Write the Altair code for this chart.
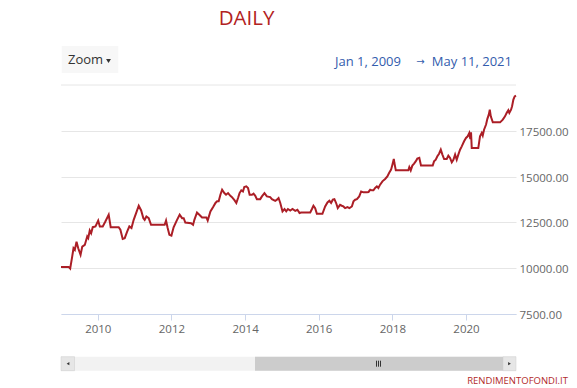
import altair as alt
import pandas as pd

# ---- data ----
dates = [
    "2009-01-01", "2009-03-18", "2009-04-02", "2009-04-22", "2009-05-05", "2009-05-18", "2009-06-04", "2009-06-21",
    "2009-07-14", "2009-07-31", "2009-08-25", "2009-09-18", "2009-09-28", "2009-10-13", "2009-10-27", "2009-11-12",
    "2009-12-09", "2010-01-05", "2010-01-21", "2010-02-19", "2010-03-17", "2010-04-19", "2010-05-09", "2010-07-27",
    "2010-08-13", "2010-09-05", "2010-09-25", "2010-10-19", "2010-11-10", "2010-12-01", "2010-12-23", "2011-01-16",
    "2011-02-11", "2011-03-07", "2011-03-29", "2011-04-11", "2011-04-28", "2011-05-21", "2011-06-13", "2011-10-26",
    "2011-11-09", "2011-11-25", "2011-12-12", "2012-01-01", "2012-01-23", "2012-02-26", "2012-03-23", "2012-04-16",
    "2012-05-02", "2012-05-18", "2012-07-14", "2012-08-03", "2012-08-16", "2012-09-11", "2012-10-04", "2012-10-31",
    "2012-12-13", "2012-12-26", "2013-01-22", "2013-02-18", "2013-03-13", "2013-03-29", "2013-04-14", "2013-05-01",
    "2013-05-18", "2013-06-09", "2013-06-26", "2013-07-16", "2013-08-08", "2013-08-24", "2013-09-19", "2013-10-06",
    "2013-10-23", "2013-11-07", "2013-11-24", "2013-12-11", "2013-12-24", "2014-01-13", "2014-01-30", "2014-02-15",
    "2014-03-10", "2014-03-26", "2014-04-12", "2014-04-28", "2014-05-31", "2014-06-17", "2014-07-12", "2014-08-05",
    "2014-09-07", "2014-09-24", "2014-10-27", "2014-11-13", "2014-11-29", "2014-12-16", "2015-01-07", "2015-01-27",
    "2015-02-13", "2015-03-02", "2015-03-25", "2015-04-16", "2015-05-13", "2015-06-04", "2015-06-25", "2015-07-11",
    "2015-10-09", "2015-10-26", "2015-11-10", "2015-11-27", "2015-12-14", "2016-02-07", "2016-03-05", "2016-03-28",
    "2016-04-16", "2016-05-03", "2016-05-20", "2016-06-05", "2016-06-22", "2016-07-08", "2016-07-31", "2016-08-17",
    "2016-09-02", "2016-09-19", "2016-10-12", "2016-11-01", "2016-11-25", "2016-12-11", "2016-12-28", "2017-01-14",
    "2017-02-06", "2017-02-25", "2017-03-20", "2017-04-23", "2017-05-09", "2017-05-26", "2017-06-11", "2017-06-27",
    "2017-07-14", "2017-07-31", "2017-08-15", "2017-09-01", "2017-09-24", "2017-10-21", "2017-11-12", "2017-11-29",
    "2017-12-19", "2018-01-01", "2018-01-15", "2018-01-21", "2018-02-04", "2018-06-08", "2018-06-18", "2018-07-02",
    "2018-07-18", "2018-08-04", "2018-08-20", "2018-09-05", "2018-09-25", "2018-10-12", "2019-02-05", "2019-02-18",
    "2019-03-07", "2019-03-23", "2019-04-09", "2019-04-26", "2019-05-12", "2019-05-29", "2019-06-24", "2019-07-10",
    "2019-07-27", "2019-08-13", "2019-08-29", "2019-09-15", "2019-10-01", "2019-10-17", "2019-11-03", "2019-11-20",
    "2019-12-13", "2020-01-01", "2020-01-18", "2020-02-03", "2020-02-13", "2020-02-20", "2020-02-27", "2020-05-02",
    "2020-05-19", "2020-06-05", "2020-06-15", "2020-06-28", "2020-07-18", "2020-07-31", "2020-08-14", "2020-08-24",
    "2020-09-03", "2020-09-23", "2020-12-04", "2020-12-31", "2021-01-22", "2021-02-08", "2021-02-24", "2021-03-06",
    "2021-03-23", "2021-04-02", "2021-04-15", "2021-04-28", "2021-05-11",
]
values = [
    10070, 10070, 9980, 10630, 11090, 11000, 11450, 11090,
    10730, 11180, 11270, 11730, 11640, 12060, 11910, 12240,
    12280, 12600, 12280, 12280, 12550, 12920, 12240, 12240,
    12100, 11600, 11640, 12000, 12280, 12190, 12640, 13010,
    13410, 13150, 12730, 12640, 12820, 12730, 12370, 12370,
    12600, 12190, 11820, 11780, 12230, 12640, 12920, 12730,
    12730, 12490, 12460, 12370, 12640, 13040, 12920, 12770,
    12770, 12600, 13100, 13340, 13560, 13650, 13650, 14010,
    14280, 14100, 14010, 14100, 13950, 13880, 13700, 13560,
    13830, 14100, 14250, 14190, 14430, 14470, 14380, 14010,
    14010, 14070, 13950, 13770, 13770, 13920, 14100, 13920,
    13880, 13770, 13680, 13740, 13830, 13560, 13100, 13230,
    13100, 13230, 13150, 13230, 13130, 13190, 13010, 13040,
    13040, 13230, 13410, 13280, 12970, 12970, 13370, 13590,
    13680, 13560, 13740, 13770, 13560, 13280, 13460, 13410,
    13370, 13280, 13340, 13280, 13370, 13650, 13740, 13770,
    13920, 14190, 14140, 14140, 14160, 14280, 14250, 14250,
    14380, 14470, 14380, 14560, 14740, 14870, 15010, 15200,
    15380, 15650, 15960, 15740, 15340, 15340, 15520, 15340,
    15600, 15710, 15830, 15980, 16020, 15600, 15600, 15830,
    15920, 16110, 16250, 16470, 16200, 15960, 15960, 16140,
    16020, 15780, 15920, 16200, 15920, 16200, 16470, 16650,
    16930, 17110, 17200, 17380, 17050, 17420, 16560, 16560,
    17200, 17380, 17240, 17560, 17840, 18150, 18380, 18650,
    18290, 17960, 17960, 18110, 18290, 18480, 18620, 18480,
    18650, 18840, 19200, 19380, 19420,
]

y_ticks = [7500, 10000, 12500, 15000, 17500]
y_top_grid = [20000]
y_domain = [7500, 20000]
x_domain = ["2009-01-01", "2021-05-11"]
x_tick_years = [2010, 2012, 2014, 2016, 2018, 2020]
title_text = "DAILY"
zoom_label = "Zoom"
range_from = "Jan 1, 2009"
range_arrow = "→"
range_to = "May 11, 2021"
watermark = "RENDIMENTOFONDI.IT"

df = pd.DataFrame({"date": dates, "value": values})

W, H = 455, 229
FONT = "Open Sans"
one = pd.DataFrame({"k": [0]})

y_scale = alt.Scale(domain=y_domain, nice=False, zero=False)

line = alt.Chart(df).mark_line(color="#ab1e26", strokeWidth=2).encode(
    x=alt.X(
        "date:T",
        scale=alt.Scale(domain=x_domain),
        axis=alt.Axis(
            values=[alt.DateTime(year=yr, month=1, date=1) for yr in x_tick_years],
            format="%Y", title=None, grid=False,
            domainColor="#ccd6eb", tickColor="#ccd6eb", tickSize=6,
            labelFont=FONT, labelFontSize=11.5, labelColor="#666666",
            labelPadding=3,
        ),
    ),
    y=alt.Y(
        "value:Q",
        scale=y_scale,
        axis=alt.Axis(
            orient="right", values=y_ticks, format=".2f", title=None,
            grid=True, gridColor="#e6e6e6", domain=False, ticks=False,
            labelFont=FONT, labelFontSize=11.5, labelColor="#666666",
            labelPadding=3, labelOffset=1.5, labelAlign="left",
        ),
    ),
)

top_grid = alt.Chart(pd.DataFrame({"v": y_top_grid})).mark_rule(color="#e6e6e6", strokeWidth=1).encode(
    y=alt.Y("v:Q", scale=y_scale)
)


def deco_text(txt, x, y, **kw):
    return alt.Chart(pd.DataFrame({"t": [txt]})).mark_text(**kw).encode(
        text="t:N", x=alt.value(x), y=alt.value(y)
    )


def deco_rect(x1, x2, y1, y2, **kw):
    return alt.Chart(one).mark_rect(**kw).encode(
        x=alt.value(x1), x2=alt.value(x2), y=alt.value(y1), y2=alt.value(y2)
    )


def deco_point(x, y, shape, size, color):
    return alt.Chart(one).mark_point(shape=shape, filled=True, size=size, color=color, opacity=1).encode(
        x=alt.value(x), y=alt.value(y)
    )


title = deco_text(title_text, 185.5, -60.3, font=FONT, fontSize=20.5, color="#b22222",
                  align="center", baseline="alphabetic")

zoom_bg = deco_rect(0.7, 57.3, -39, -12, color="#f7f7f7")
zoom_txt = deco_text(zoom_label, 7, -25, font=FONT, fontSize=13, color="#333333",
                     align="left", baseline="middle")
zoom_caret = deco_point(47.5, -24, "triangle-down", 24, "#333333")

rng_from = deco_text(range_from, 274, -23.5, font=FONT, fontSize=13, color="#335cad",
                     align="left", baseline="middle")
rng_arrow = deco_text(range_arrow, 359.5, -23.5, font="DejaVu Sans", fontSize=10, color="#335cad",
                      align="center", baseline="middle")
rng_to = deco_text(range_to, 451, -23.5, font=FONT, fontSize=13, color="#335cad",
                   align="right", baseline="middle")

track = deco_rect(0, 455, 271.7, 285.7, color="#f2f2f2")
left_btn = deco_rect(0, 13.5, 271.7, 285.7, color="#e6e6e6", stroke="#cccccc", strokeWidth=0.5)
thumb = deco_rect(194, 442, 271.7, 285.7, color="#cccccc")
right_btn = deco_rect(442, 455, 271.7, 285.7, color="#e6e6e6", stroke="#cccccc", strokeWidth=0.5)
left_arrow = deco_point(7, 278.7, "triangle-left", 10, "#333333")
right_arrow = deco_point(448.5, 278.7, "triangle-right", 10, "#333333")
grips = [
    alt.Chart(one).mark_rule(color="#333333", strokeWidth=1).encode(
        x=alt.value(gx), y=alt.value(275.7), y2=alt.value(281.7)
    )
    for gx in (315.5, 317.5, 319.5)
]

wm = deco_text(watermark, 507, 295.7, font=FONT, fontSize=9.5, color="#b22a2a",
               align="right", baseline="middle")

chart = alt.layer(
    line, top_grid, title, zoom_bg, zoom_txt, zoom_caret, rng_from, rng_arrow, rng_to,
    track, left_btn, thumb, right_btn, left_arrow, right_arrow, *grips, wm,
).properties(
    width=W, height=H,
    autosize=alt.AutoSizeParams(type="none"),
    padding={"left": 53, "top": 77, "right": 53, "bottom": 72},
    background="white",
).configure_view(stroke=None)

chart.save("out.html", embed_options={"renderer": "svg", "actions": False})
